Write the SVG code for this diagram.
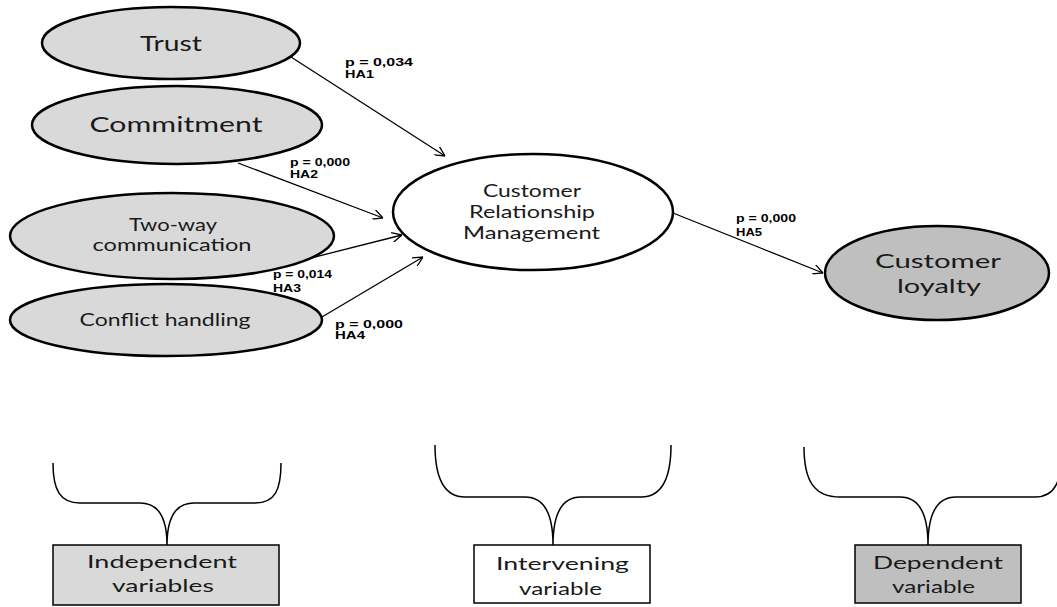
<svg xmlns="http://www.w3.org/2000/svg" width="1057" height="607" viewBox="0 0 1057 607">
<style>
.node{stroke:#000;stroke-width:2.5}
.ind{fill:#d9d9d9}
.dep{fill:#bfbfbf}
.wht{fill:#fff}
.t{font-family:Lato,"Open Sans","Liberation Sans",sans-serif;fill:#1a1a1a}
.lbl{font-family:"Liberation Sans",Arial,sans-serif;font-size:11px;font-weight:bold;fill:#000}
.con{stroke:#000;stroke-width:1.3;fill:none}
.brace{stroke:#000;stroke-width:1.5;fill:none}
.box{stroke:#000;stroke-width:1.5}
</style>
<defs>
<marker id="arr" viewBox="0 0 10 10" refX="10" refY="5" markerWidth="10" markerHeight="10" markerUnits="userSpaceOnUse" orient="auto">
<path d="M0,0 L10,5 L0,10" fill="none" stroke="#000" stroke-width="1.3"/>
</marker>
</defs>
<rect width="1057" height="607" fill="#fff"/>

<g id="connectors">
<line class="con" x1="291" y1="57" x2="445" y2="156" marker-end="url(#arr)"/>
<line class="con" x1="238" y1="163" x2="383" y2="218" marker-end="url(#arr)"/>
<line class="con" x1="303" y1="260" x2="402" y2="235" marker-end="url(#arr)"/>
<line class="con" x1="322" y1="317" x2="423" y2="257" marker-end="url(#arr)"/>
<line class="con" x1="673" y1="213" x2="823" y2="273" marker-end="url(#arr)"/>
<text class="lbl" x="345" y="66" textLength="68" lengthAdjust="spacingAndGlyphs">p = 0,034</text>
<text class="lbl" x="345" y="78" textLength="29" lengthAdjust="spacingAndGlyphs">HA1</text>
<text class="lbl" x="290" y="166" textLength="60" lengthAdjust="spacingAndGlyphs">p = 0,000</text>
<text class="lbl" x="290" y="178" textLength="28" lengthAdjust="spacingAndGlyphs">HA2</text>
<text class="lbl" x="273" y="278" textLength="59" lengthAdjust="spacingAndGlyphs">p = 0,014</text>
<text class="lbl" x="273" y="292" textLength="28" lengthAdjust="spacingAndGlyphs">HA3</text>
<text class="lbl" x="335" y="328" textLength="68" lengthAdjust="spacingAndGlyphs">p = 0,000</text>
<text class="lbl" x="335" y="339" textLength="30" lengthAdjust="spacingAndGlyphs">HA4</text>
<text class="lbl" x="736" y="222" textLength="60" lengthAdjust="spacingAndGlyphs">p = 0,000</text>
<text class="lbl" x="736" y="236" textLength="26" lengthAdjust="spacingAndGlyphs">HA5</text>
</g>

<g id="trust">
<ellipse class="node ind" cx="171" cy="43" rx="129" ry="36"/>
<text class="t" x="140" y="51" font-size="22" textLength="62" lengthAdjust="spacingAndGlyphs">Trust</text>
</g>
<g id="commitment">
<ellipse class="node ind" cx="177" cy="125" rx="145" ry="39"/>
<text class="t" x="89.5" y="132" font-size="21" textLength="173" lengthAdjust="spacingAndGlyphs">Commitment</text>
</g>
<g id="two-way">
<ellipse class="node ind" cx="172" cy="236" rx="162" ry="43"/>
<text class="t" x="129" y="231" font-size="17" textLength="88" lengthAdjust="spacingAndGlyphs">Two-way</text>
<text class="t" x="92.5" y="251" font-size="17" textLength="159" lengthAdjust="spacingAndGlyphs">communication</text>
</g>
<g id="conflict">
<ellipse class="node ind" cx="166" cy="320" rx="156" ry="36"/>
<text class="t" x="79.5" y="326" font-size="18" textLength="171" lengthAdjust="spacingAndGlyphs">Conflict handling</text>
</g>
<g id="crm">
<ellipse class="node wht" cx="533" cy="212" rx="140" ry="58"/>
<text class="t" x="483" y="197" font-size="17" textLength="98" lengthAdjust="spacingAndGlyphs">Customer</text>
<text class="t" x="469" y="218" font-size="17" textLength="126" lengthAdjust="spacingAndGlyphs">Relationship</text>
<text class="t" x="463" y="239" font-size="17" textLength="137" lengthAdjust="spacingAndGlyphs">Management</text>
</g>
<g id="loyalty">
<ellipse class="node dep" cx="937" cy="273" rx="112" ry="47"/>
<text class="t" x="875" y="268" font-size="20" textLength="126" lengthAdjust="spacingAndGlyphs">Customer</text>
<text class="t" x="897" y="293" font-size="20" textLength="84" lengthAdjust="spacingAndGlyphs">loyalty</text>
</g>

<g id="brace-independent">
<path class="brace" d="M53,463 C53,490 60,503 80,503 L140,503 C160,503 167,520 167,545 C167,520 174,503 194,503 L255,503 C275,503 281,490 281,463"/>
</g>
<g id="brace-intervening">
<path class="brace" d="M435,445 C435,480 445,497 465,497 L525,497 C545,497 553,515 553,545 C553,515 561,497 581,497 L641,497 C661,497 671,480 671,445"/>
</g>
<g id="brace-dependent">
<path class="brace" d="M804,447 C804,482 815,497 840,497 L900,497 C920,497 928,515 928,545 C928,515 936,497 956,497 L1035,497 C1055,497 1062,482 1062,447"/>
</g>

<g id="independent-box">
<rect class="box ind" x="53" y="545" width="226" height="60"/>
<text class="t" x="87" y="568" font-size="18" textLength="150" lengthAdjust="spacingAndGlyphs">Independent</text>
<text class="t" x="112" y="592" font-size="18" textLength="102" lengthAdjust="spacingAndGlyphs">variables</text>
</g>
<g id="intervening-box">
<rect class="box wht" x="474" y="545" width="176" height="58"/>
<text class="t" x="496" y="570" font-size="18" textLength="133" lengthAdjust="spacingAndGlyphs">Intervening</text>
<text class="t" x="519" y="595" font-size="18" textLength="83" lengthAdjust="spacingAndGlyphs">variable</text>
</g>
<g id="dependent-box">
<rect class="box dep" x="855" y="545" width="166" height="58"/>
<text class="t" x="873" y="569" font-size="18" textLength="130" lengthAdjust="spacingAndGlyphs">Dependent</text>
<text class="t" x="892" y="593" font-size="18" textLength="83" lengthAdjust="spacingAndGlyphs">variable</text>
</g>
</svg>
